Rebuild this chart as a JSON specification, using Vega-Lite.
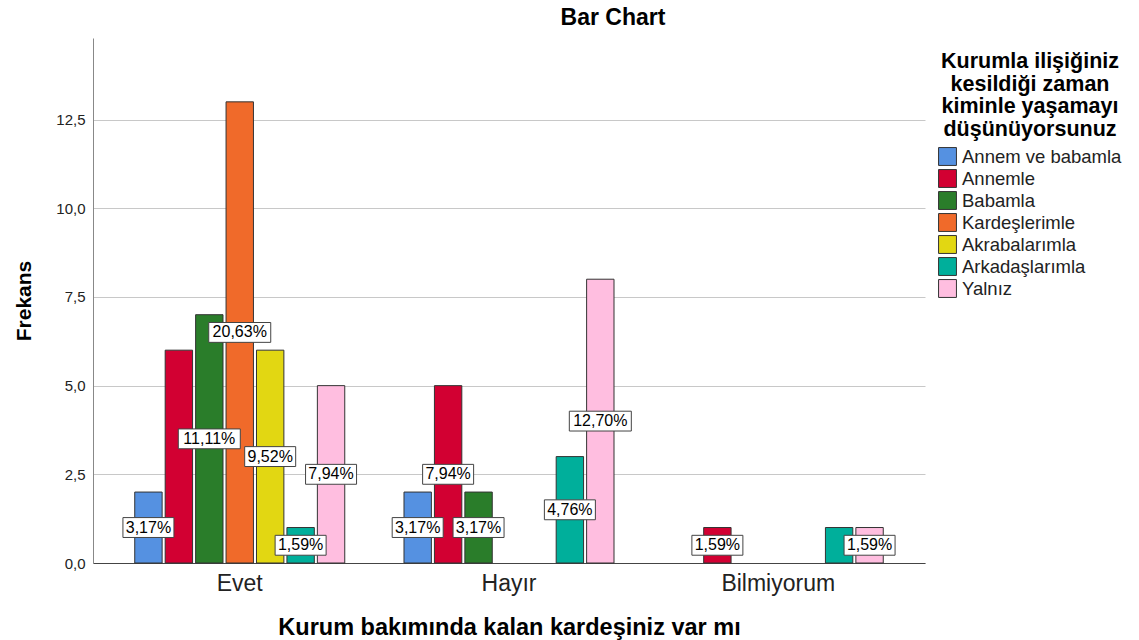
{
  "$schema": "https://vega.github.io/schema/vega-lite/v6.json",
  "width": 832,
  "height": 525,
  "autosize": {"type": "none"},
  "padding": {"left": 93, "top": 38, "right": 214, "bottom": 77},
  "background": "white",
  "config": {"view": {"stroke": null}, "font": "Liberation Sans"},
  "title": {"text": "Bar Chart", "fontSize": 23, "fontWeight": "bold", "font": "Liberation Sans", "color": "#000000", "anchor": "middle", "dx": 104, "offset": 8},
  "data": {
    "values": [
      {"group": "Evet", "series": "Annem ve babamla", "count": 2, "label": "3,17%"},
      {"group": "Evet", "series": "Annemle", "count": 6, "label": ""},
      {"group": "Evet", "series": "Babamla", "count": 7, "label": "11,11%"},
      {"group": "Evet", "series": "Kardeşlerimle", "count": 13, "label": "20,63%"},
      {"group": "Evet", "series": "Akrabalarımla", "count": 6, "label": "9,52%"},
      {"group": "Evet", "series": "Arkadaşlarımla", "count": 1, "label": "1,59%"},
      {"group": "Evet", "series": "Yalnız", "count": 5, "label": "7,94%"},
      {"group": "Hayır", "series": "Annem ve babamla", "count": 2, "label": "3,17%"},
      {"group": "Hayır", "series": "Annemle", "count": 5, "label": "7,94%"},
      {"group": "Hayır", "series": "Babamla", "count": 2, "label": "3,17%"},
      {"group": "Hayır", "series": "Arkadaşlarımla", "count": 3, "label": "4,76%"},
      {"group": "Hayır", "series": "Yalnız", "count": 8, "label": "12,70%"},
      {"group": "Bilmiyorum", "series": "Annemle", "count": 1, "label": "1,59%"},
      {"group": "Bilmiyorum", "series": "Arkadaşlarımla", "count": 1, "label": ""},
      {"group": "Bilmiyorum", "series": "Yalnız", "count": 1, "label": "1,59%"}
    ]
  },
  "encoding": {
    "x": {
      "field": "group", "type": "nominal", "sort": ["Evet", "Hayır", "Bilmiyorum"],
      "scale": {"paddingInner": 0.22, "paddingOuter": 0.155},
      "axis": {
        "title": "Kurum bakımında kalan kardeşiniz var mı",
        "titleFontSize": 23.5, "titleFontWeight": "bold", "titleColor": "#000000", "titlePadding": 20,
        "labelFontSize": 23, "labelColor": "#222222", "labelPadding": 9, "labelAngle": 0,
        "ticks": false, "domainColor": "#444444", "domainWidth": 1
      }
    },
    "xOffset": {
      "field": "series", "type": "nominal",
      "sort": ["Annem ve babamla", "Annemle", "Babamla", "Kardeşlerimle", "Akrabalarımla", "Arkadaşlarımla", "Yalnız"],
      "scale": {"paddingInner": 0.1, "paddingOuter": 0}
    }
  },
  "layer": [
    {
      "mark": {"type": "bar", "stroke": "#333333", "strokeWidth": 1},
      "encoding": {
        "y": {
          "field": "count", "type": "quantitative",
          "scale": {"domain": [0, 14.8], "nice": false, "zero": true},
          "axis": {
            "title": "Frekans", "titleFontSize": 21, "titleFontWeight": "bold", "titleColor": "#000000", "titlePadding": 21,
            "values": [0, 2.5, 5, 7.5, 10, 12.5],
            "labelExpr": "replace(format(datum.value, '.1f'), '.', ',')",
            "labelFontSize": 15, "labelColor": "#222222", "labelPadding": 8,
            "ticks": false, "domainColor": "#888888",
            "grid": true, "gridColor": "#c8c8c8", "gridWidth": 1
          }
        },
        "color": {
          "field": "series", "type": "nominal",
          "scale": {
            "domain": ["Annem ve babamla", "Annemle", "Babamla", "Kardeşlerimle", "Akrabalarımla", "Arkadaşlarımla", "Yalnız"],
            "range": ["#5591E1", "#D20032", "#2A7D2A", "#F06A2A", "#E2D712", "#00AF9B", "#FFBEE0"]
          },
          "legend": {
            "title": ["Kurumla ilişiğiniz", "kesildiği zaman", "kiminle yaşamayı", "düşünüyorsunuz"],
            "orient": "none", "legendX": 845, "legendY": 13,
            "titleFontSize": 21.5, "titleFontWeight": "bold", "titleColor": "#000000", "titleLineHeight": 22.5, "titleLimit": 300,
            "titleAlign": "center", "titleAnchor": "middle", "titlePadding": 7,
            "labelFontSize": 18.5, "labelColor": "#222222", "labelOffset": 5, "labelLimit": 300,
            "symbolType": "square", "symbolSize": 320, "symbolStrokeColor": "#333333", "symbolStrokeWidth": 1, "symbolOpacity": 1,
            "rowPadding": -1
          }
        }
      }
    },
    {
      "transform": [{"filter": "datum.label != ''"}, {"calculate": "datum.count / 2", "as": "mid"}],
      "mark": {"type": "point", "filled": true, "fill": "white", "stroke": "#444444", "strokeWidth": 1, "opacity": 1},
      "encoding": {
        "y": {"field": "mid", "type": "quantitative", "axis": {"title": "Frekans"}},
        "shape": {"condition": {"test": "length(datum.label) > 5", "value": "M-1,-0.32H1V0.32H-1Z"}, "value": "M-1,-0.39H1V0.39H-1Z"},
        "size": {"condition": {"test": "length(datum.label) > 5", "value": 3844}, "value": 2601}
      }
    },
    {
      "transform": [{"filter": "datum.label != ''"}, {"calculate": "datum.count / 2", "as": "mid"}],
      "mark": {"type": "text", "fontSize": 16, "color": "#000000", "baseline": "middle", "align": "center"},
      "encoding": {
        "y": {"field": "mid", "type": "quantitative", "axis": {"title": "Frekans"}},
        "text": {"field": "label"}
      }
    }
  ]
}
